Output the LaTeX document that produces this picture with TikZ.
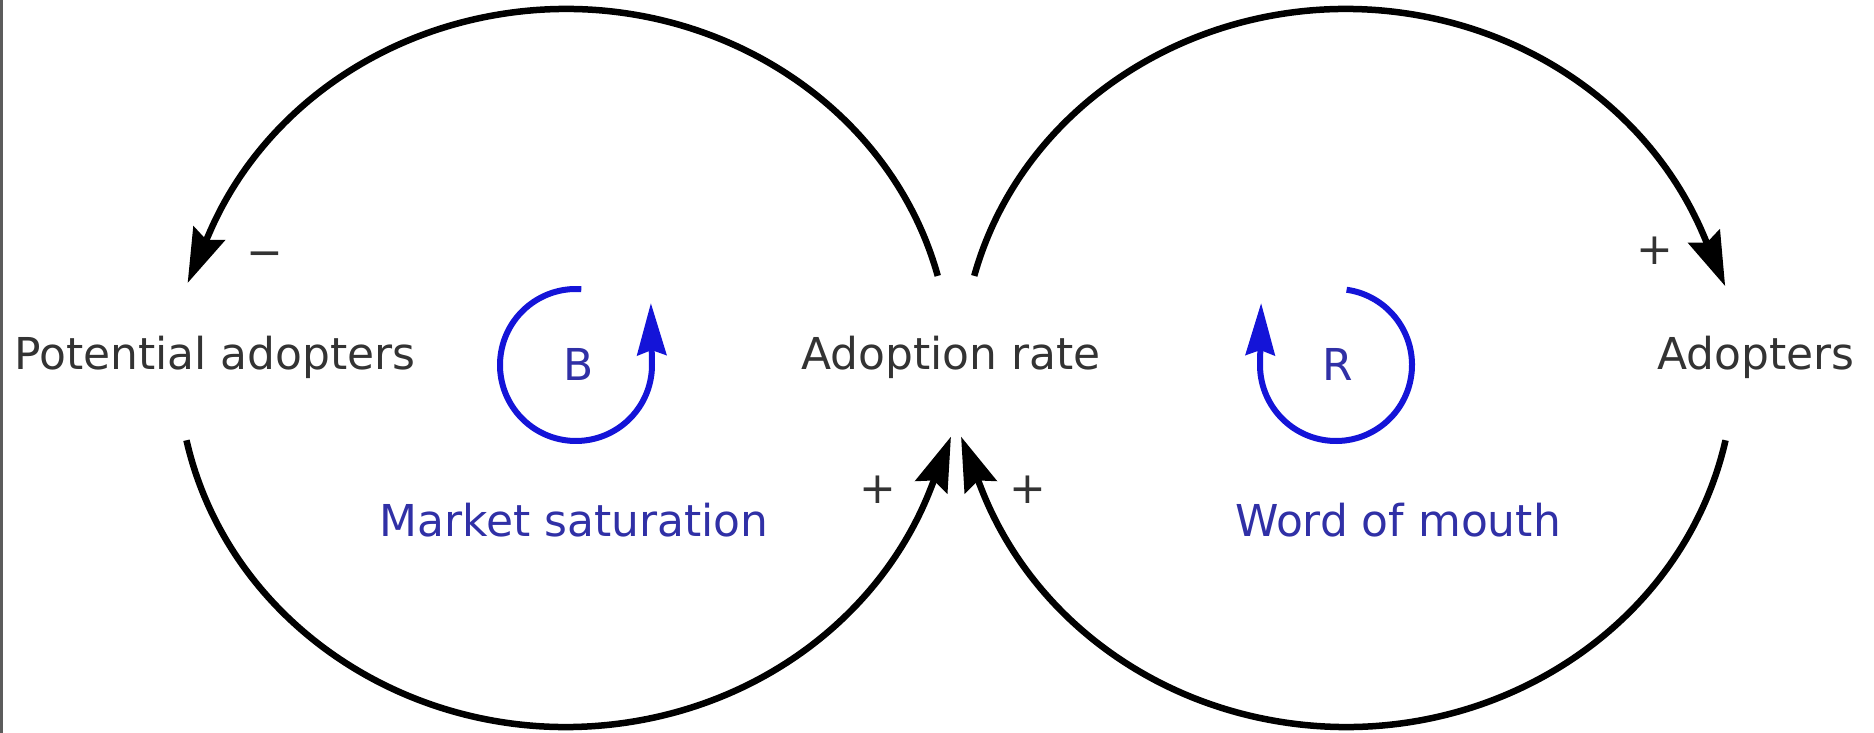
\documentclass[tikz,border=0pt]{standalone}
\usepackage{fontspec}
\setmainfont{DejaVu Sans}
\usetikzlibrary{arrows.meta}
\definecolor{cdark}{HTML}{333333}
\definecolor{cblue}{HTML}{1414D8}
\definecolor{cbluetext}{HTML}{3030A6}
\definecolor{cedge}{HTML}{5C5C5C}
\definecolor{cwhite}{HTML}{FFFFFF}

\begin{document}
\begin{tikzpicture}[x=0.1mm,y=-0.1mm,
  var/.style={font=\fontsize{12.5}{15}\selectfont, text=cdark, inner sep=0, anchor=base},
  sgn/.style={font=\fontsize{12.5}{15}\selectfont, text=cdark, inner sep=0},
  lname/.style={var, text=cbluetext},
  link/.style={-{Stealth[length=5.4mm, width=3.4mm, inset=0.7mm]}, line width=0.65mm},
  loopmark/.style={-{Stealth[length=5.2mm, width=2.9mm, inset=0.5mm]}, line width=0.6mm, draw=cblue}]

\fill[cwhite] (0,0) rectangle (1874,733);
\useasboundingbox (0,0) rectangle (1874,733);
\draw[cedge, line width=0.25mm] (1.5,0) -- (1.5,733);

\node[var] (pot) at (215,370) {Potential adopters};
\node[var] (rate) at (951,370) {Adoption rate};
\node[var] (adopt) at (1756,370) {Adopters};
\node[lname] (sat) at (574,537) {Market saturation};
\node[lname] (wom) at (1398,537) {Word of mouth};
\node[lname] (bal) at (579,381) {B};
\node[lname] (rein) at (1338,381) {R};

% loop centres and arc ends
\coordinate (lc) at (566,365);
\coordinate (rc) at (1346,365);
\coordinate (bc) at (576,365);
\coordinate (rrc) at (1336,365);
\coordinate (rateNW) at ([shift={(14.5:38.4mm and 35.6mm)}]lc);
\coordinate (potSE) at ([shift={(192:38.8mm and 36.2mm)}]lc);
\coordinate (rateNE) at ([shift={(165.5:38.4mm and 35.6mm)}]rc);
\coordinate (adoptSW) at ([shift={(348:38.8mm and 36.2mm)}]rc);

\draw[link] (rateNW) arc[start angle=14.5, end angle=158, x radius=38.4mm, y radius=35.6mm] -- ++(246.5:5.6mm);
\draw[link] (potSE) arc[start angle=192, end angle=340, x radius=38.8mm, y radius=36.2mm] -- ++(68.7:5.6mm);
\draw[link] (rateNE) arc[start angle=165.5, end angle=21.5, x radius=38.4mm, y radius=35.6mm] -- ++(293:5.6mm);
\draw[link] (adoptSW) arc[start angle=348, end angle=200, x radius=38.8mm, y radius=36.2mm] -- ++(111.3:5.6mm);

\node[sgn] (minus) at (265,260) {−};
\node[sgn] (plusad) at (1655,251) {+};
\node[sgn] (pluspot) at (878,490) {+};
\node[sgn] (plusadr) at (1028,490) {+};

\draw[loopmark] ([shift={(86:7.6mm)}]bc) arc[start angle=86, end angle=363, radius=7.6mm] -- ++(91:5.8mm);
\draw[loopmark] ([shift={(82:7.6mm)}]rrc) arc[start angle=82, end angle=-183, radius=7.6mm] -- ++(89:5.8mm);
\end{tikzpicture}
\end{document}
